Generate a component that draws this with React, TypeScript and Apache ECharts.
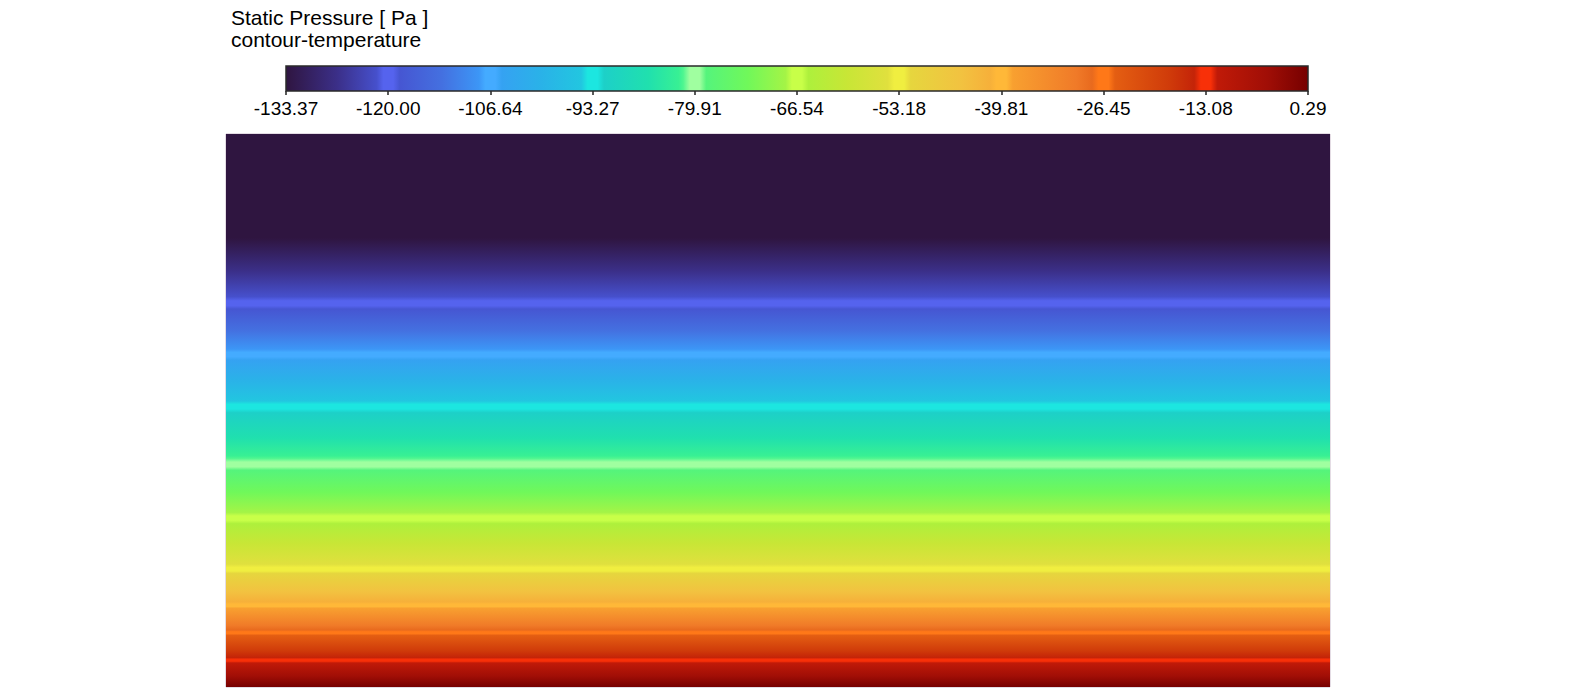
import React, { useEffect, useRef } from "react";
import * as echarts from "echarts";

const TITLE = "Static Pressure [ Pa ]";
const SUBTITLE = "contour-temperature";
const P_MIN = -133.37;
const P_MAX = 0.29;
const TICK_VALUES = [-133.37, -120.0, -106.64, -93.27, -79.91, -66.54, -53.18, -39.81, -26.45, -13.08, 0.29];

// colour map (pressure value -> colour)
const CMAP_VALUES = [
  -133.37, -126.7, -121.5, -120.65, -119.35, -118.5, -113.0, -108.14, -107.29, -105.99, -105.14, -100.0, -94.77,
  -93.92, -92.62, -91.77, -86.0, -82.0, -81.41, -80.56, -79.26, -78.41, -73.0, -68.04, -67.19, -65.89, -65.04,
  -60.0, -54.68, -53.83, -52.53, -51.68, -45.0, -41.31, -40.46, -39.16, -38.31, -30.0, -27.95, -27.1, -25.8,
  -24.95, -18.0, -14.58, -13.73, -12.43, -11.58, -5.0, 0.29,
];
const CMAP_COLORS = [
  "#2f1540", "#3b2f88", "#4650cc", "#5563ee", "#5563ee", "#4656d2", "#4470e0", "#3c96f6", "#44abff", "#44abff", "#35a2f2", "#2ab2e8", "#22c6e0",
  "#1ce6e0", "#1ce6e0", "#1dd0c8", "#20e0ae", "#38f094", "#4ff690", "#a0ffa0", "#a0ffa0", "#55f47c", "#70f85a", "#a4f446", "#c8ff48", "#c8ff48", "#aef03c",
  "#c8e636", "#e0e03e", "#f0ee40", "#f0ee40", "#e6d63e", "#f2c240", "#f6b03a", "#ffb838", "#ffb838", "#f8a030", "#f07a28", "#e86a1e", "#ff7818", "#ff7818",
  "#e45e12", "#d03c0a", "#c42408", "#f83008", "#f83008", "#c01a08", "#a00e06", "#760000",
];

// vertical pressure profile of the field: depth (0 = top, 1 = bottom) and pressure
const PROFILE_DEPTH = [0, 0.188, 0.306, 0.398, 0.492, 0.597, 0.694, 0.787, 0.852, 0.901, 0.951, 1.0];
const PROFILE_PRESSURE = [-133.37, -133.37, -120.0, -106.64, -93.27, -79.91, -66.54, -53.18, -39.81, -26.45, -13.08, 0.29];

function hexToRgb(h: string) {
  const n = parseInt(h.slice(1), 16);
  return [(n >> 16) & 255, (n >> 8) & 255, n & 255];
}
function colorAt(v: number): string {
  if (v <= CMAP_VALUES[0]) return CMAP_COLORS[0];
  const last = CMAP_VALUES.length - 1;
  if (v >= CMAP_VALUES[last]) return CMAP_COLORS[last];
  let i = 0;
  while (i < last - 1 && v > CMAP_VALUES[i + 1]) i++;
  const t = (v - CMAP_VALUES[i]) / (CMAP_VALUES[i + 1] - CMAP_VALUES[i]);
  const a = hexToRgb(CMAP_COLORS[i]);
  const b = hexToRgb(CMAP_COLORS[i + 1]);
  const c = a.map((x, k) => Math.round(x + (b[k] - x) * t));
  return `rgb(${c[0]},${c[1]},${c[2]})`;
}
function stopsBetween(v0: number, v1: number) {
  if (v0 === v1) return [{ offset: 0, color: colorAt(v0) }, { offset: 1, color: colorAt(v0) }];
  const lo = Math.min(v0, v1);
  const hi = Math.max(v0, v1);
  const stops = [{ offset: 0, color: colorAt(v0) }];
  const inner = CMAP_VALUES.filter((v) => v > lo && v < hi).map((v) => ({ offset: (v - v0) / (v1 - v0), color: colorAt(v) }));
  inner.sort((a, b) => a.offset - b.offset);
  return stops.concat(inner, [{ offset: 1, color: colorAt(v1) }]);
}

const FONT = "'Liberation Sans', Arial, Helvetica, sans-serif";

export default function App() {
  const ref = useRef<HTMLDivElement>(null);
  useEffect(() => {
    if (!ref.current) return;
    const chart = echarts.init(ref.current, null, { renderer: "svg" });
    const segments = PROFILE_DEPTH.slice(0, -1).map((d, i) => [d, PROFILE_DEPTH[i + 1], PROFILE_PRESSURE[i], PROFILE_PRESSURE[i + 1]]);
    const nSeg = segments.length;
    chart.setOption({
      animation: false,
      graphic: [
        { type: "text", x: 231, y: 17.7, style: { text: TITLE, fontSize: 21, fontFamily: FONT, fill: "#000", verticalAlign: "middle" } },
        { type: "text", x: 231, y: 39.4, style: { text: SUBTITLE, fontSize: 21, fontFamily: FONT, fill: "#000", verticalAlign: "middle" } },
      ],
      grid: [
        { left: 226, top: 134, width: 1104, height: 553, show: true, borderColor: "#c9b9c9", borderWidth: 1, backgroundColor: "transparent" },
        { left: 286, top: 66, width: 1022, height: 25 },
      ],
      xAxis: [
        { gridIndex: 0, type: "value", min: 0, max: 1, show: false },
        {
          gridIndex: 1,
          type: "value",
          min: P_MIN,
          max: P_MAX,
          position: "bottom",
          axisLine: { show: false },
          splitLine: { show: false },
          axisTick: { show: true, customValues: TICK_VALUES, length: 4, lineStyle: { color: "#222", width: 1.5 } },
          axisLabel: {
            show: true,
            customValues: TICK_VALUES,
            formatter: (v: number) => v.toFixed(2),
            fontSize: 19,
            fontFamily: FONT,
            color: "#000",
            margin: 8,
            showMinLabel: true,
            showMaxLabel: true,
            hideOverlap: false,
          },
        },
      ],
      yAxis: [
        { gridIndex: 0, type: "value", min: 0, max: 1, inverse: true, show: false },
        { gridIndex: 1, type: "value", min: 0, max: 1, show: false },
      ],
      series: [
        {
          type: "custom",
          xAxisIndex: 0,
          yAxisIndex: 0,
          clip: false,
          data: segments,
          renderItem: (params: any, api: any) => {
            const d0 = api.value(0);
            const d1 = api.value(1);
            const v0 = api.value(2);
            const v1 = api.value(3);
            const tl = api.coord([0, d0]);
            const br = api.coord([1, d1]);
            const extra = params.dataIndex < nSeg - 1 ? 0.8 : 0;
            return {
              type: "rect",
              shape: { x: tl[0], y: tl[1], width: br[0] - tl[0], height: br[1] - tl[1] + extra },
              style: { fill: new echarts.graphic.LinearGradient(0, 0, 0, 1, stopsBetween(v0, v1)) },
            };
          },
        },
        {
          type: "custom",
          xAxisIndex: 1,
          yAxisIndex: 1,
          clip: false,
          data: [[P_MIN, P_MAX]],
          renderItem: (params: any, api: any) => {
            const a = api.coord([api.value(0), 1]);
            const b = api.coord([api.value(1), 0]);
            return {
              type: "rect",
              shape: { x: a[0], y: a[1], width: b[0] - a[0], height: b[1] - a[1] },
              style: {
                fill: new echarts.graphic.LinearGradient(0, 0, 1, 0, stopsBetween(api.value(0), api.value(1))),
                stroke: "#2a2a2a",
                lineWidth: 1.5,
              },
            };
          },
        },
      ],
    });
    return () => chart.dispose();
  }, []);
  return <div ref={ref} style={{ position: "fixed", left: 0, top: 0, width: 1584, height: 697, background: "#fff" }} />;
}
